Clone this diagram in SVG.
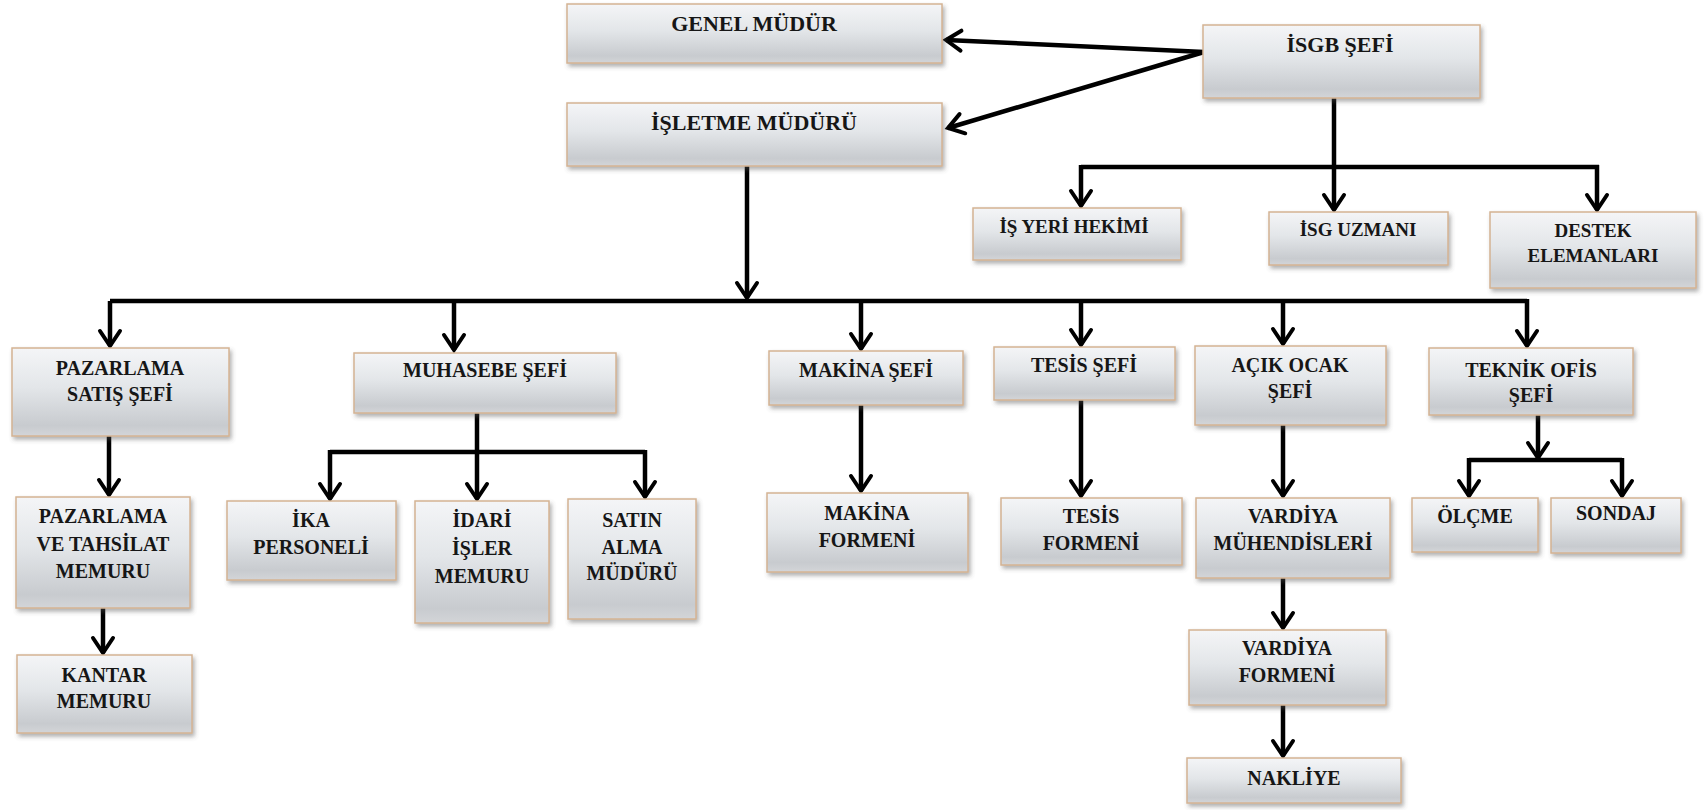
<svg xmlns="http://www.w3.org/2000/svg" width="1707" height="810" viewBox="0 0 1707 810">
  <defs>
    <linearGradient id="boxFill" x1="0" y1="0" x2="0" y2="1">
      <stop offset="0" stop-color="#f4f5f7"/>
      <stop offset="0.45" stop-color="#e3e6e9"/>
      <stop offset="0.88" stop-color="#c8cbcf"/>
      <stop offset="1" stop-color="#d3d5d8"/>
    </linearGradient>
    <filter id="shadow" x="-10%" y="-20%" width="120%" height="150%">
      <feDropShadow dx="2" dy="3" stdDeviation="2" flood-color="#555" flood-opacity="0.45"/>
    </filter>
    <marker id="arrow" markerUnits="userSpaceOnUse" viewBox="-18 -13 22 26" refX="0" refY="0" markerWidth="22" markerHeight="26" orient="auto" overflow="visible">
      <path d="M-15,-10 L0,0 L-15,10" fill="none" stroke="#000" stroke-width="4" stroke-linejoin="miter" stroke-linecap="round"/>
    </marker>
  </defs>
  <style>
    .box { fill: url(#boxFill); stroke: #d4b393; stroke-width: 1.5; filter: url(#shadow); }
    .lbl { font-family: "Liberation Serif", "Times New Roman", serif; font-weight: bold; font-size: 20px; fill: #161616; text-anchor: middle; }
    .big { font-size: 22px; }
    .mid { font-size: 19px; }
    .wire { fill: none; stroke: #000; stroke-width: 4.5; stroke-linejoin: miter; }
    .arr { marker-end: url(#arrow); }
  </style>
  <rect width="1707" height="810" fill="#fff"/>

  <!-- connectors -->
  <g id="connectors">
    <path class="wire arr" d="M1204,52 L946,40"/>
    <path class="wire arr" d="M1204,52 L948,128"/>
    <path class="wire arr" d="M747,166 L747,298"/>
    <path class="wire" d="M110,301 L1527,301"/>
    <path class="wire arr" d="M110,301 L110,346"/>
    <path class="wire arr" d="M454,301 L454,350"/>
    <path class="wire arr" d="M861,301 L861,349"/>
    <path class="wire arr" d="M1081,301 L1081,345"/>
    <path class="wire arr" d="M1283,301 L1283,344"/>
    <path class="wire arr" d="M1527,299 L1527,346"/>

    <path class="wire" d="M1334,98 L1334,167"/>
    <path class="wire" d="M1081,167 L1599,167"/>
    <path class="wire arr" d="M1081,165 L1081,206"/>
    <path class="wire arr" d="M1334,167 L1334,210"/>
    <path class="wire arr" d="M1597,165 L1597,210"/>

    <path class="wire arr" d="M109,436 L109,495"/>
    <path class="wire arr" d="M103,608 L103,653"/>

    <path class="wire" d="M477,413 L477,452"/>
    <path class="wire" d="M330,452 L645,452"/>
    <path class="wire arr" d="M330,450 L330,499"/>
    <path class="wire arr" d="M477,452 L477,499"/>
    <path class="wire arr" d="M645,450 L645,497"/>

    <path class="wire arr" d="M861,405 L861,491"/>
    <path class="wire arr" d="M1081,400 L1081,496"/>
    <path class="wire arr" d="M1283,425 L1283,496"/>
    <path class="wire arr" d="M1283,578 L1283,628"/>
    <path class="wire arr" d="M1283,705 L1283,756"/>

    <path class="wire arr" d="M1538,415 L1538,458"/>
    <path class="wire" d="M1469,460 L1622,460"/>
    <path class="wire arr" d="M1469,458 L1469,496"/>
    <path class="wire arr" d="M1622,458 L1622,496"/>
  </g>

  <!-- management -->
  <g id="genel-mudur">
    <rect class="box" x="567" y="4" width="375" height="59"/>
    <text class="lbl big" x="754" y="31">GENEL MÜDÜR</text>
  </g>
  <g id="isletme-muduru">
    <rect class="box" x="567" y="103" width="375" height="63"/>
    <text class="lbl big" x="754" y="130">İŞLETME MÜDÜRÜ</text>
  </g>
  <g id="isgb-sefi">
    <rect class="box" x="1203" y="25" width="277" height="73"/>
    <text class="lbl big" x="1340" y="52">İSGB ŞEFİ</text>
  </g>

  <!-- occupational safety -->
  <g id="is-yeri-hekimi">
    <rect class="box" x="973" y="208" width="208" height="52"/>
    <text class="lbl mid" x="1074" y="233">İŞ YERİ HEKİMİ</text>
  </g>
  <g id="isg-uzmani">
    <rect class="box" x="1269" y="212" width="179" height="53"/>
    <text class="lbl mid" x="1358" y="236">İSG UZMANI</text>
  </g>
  <g id="destek-elemanlari">
    <rect class="box" x="1490" y="212" width="206" height="76"/>
    <text class="lbl mid" x="1593" y="237">DESTEK</text>
    <text class="lbl mid" x="1593" y="262">ELEMANLARI</text>
  </g>

  <!-- departments -->
  <g id="pazarlama-satis-sefi">
    <rect class="box" x="12" y="348" width="217" height="88"/>
    <text class="lbl" x="120" y="375">PAZARLAMA</text>
    <text class="lbl" x="120" y="401">SATIŞ ŞEFİ</text>
  </g>
  <g id="muhasebe-sefi">
    <rect class="box" x="354" y="353" width="262" height="60"/>
    <text class="lbl" x="485" y="377">MUHASEBE ŞEFİ</text>
  </g>
  <g id="makina-sefi">
    <rect class="box" x="769" y="351" width="194" height="54"/>
    <text class="lbl" x="866" y="377">MAKİNA ŞEFİ</text>
  </g>
  <g id="tesis-sefi">
    <rect class="box" x="994" y="347" width="181" height="53"/>
    <text class="lbl" x="1084" y="372">TESİS ŞEFİ</text>
  </g>
  <g id="acik-ocak-sefi">
    <rect class="box" x="1195" y="346" width="191" height="79"/>
    <text class="lbl" x="1290" y="372">AÇIK OCAK</text>
    <text class="lbl" x="1290" y="398">ŞEFİ</text>
  </g>
  <g id="teknik-ofis-sefi">
    <rect class="box" x="1429" y="348" width="204" height="67"/>
    <text class="lbl" x="1531" y="377">TEKNİK OFİS</text>
    <text class="lbl" x="1531" y="402">ŞEFİ</text>
  </g>

  <!-- staff -->
  <g id="pazarlama-tahsilat-memuru">
    <rect class="box" x="16" y="497" width="174" height="111"/>
    <text class="lbl" x="103" y="523">PAZARLAMA</text>
    <text class="lbl" x="103" y="551">VE TAHSİLAT</text>
    <text class="lbl" x="103" y="578">MEMURU</text>
  </g>
  <g id="kantar-memuru">
    <rect class="box" x="17" y="655" width="175" height="78"/>
    <text class="lbl" x="104" y="682">KANTAR</text>
    <text class="lbl" x="104" y="708">MEMURU</text>
  </g>
  <g id="ika-personeli">
    <rect class="box" x="227" y="501" width="169" height="79"/>
    <text class="lbl" x="311" y="527">İKA</text>
    <text class="lbl" x="311" y="554">PERSONELİ</text>
  </g>
  <g id="idari-isler-memuru">
    <rect class="box" x="415" y="501" width="134" height="122"/>
    <text class="lbl" x="482" y="527">İDARİ</text>
    <text class="lbl" x="482" y="555">İŞLER</text>
    <text class="lbl" x="482" y="583">MEMURU</text>
  </g>
  <g id="satin-alma-muduru">
    <rect class="box" x="568" y="499" width="128" height="120"/>
    <text class="lbl" x="632" y="527">SATIN</text>
    <text class="lbl" x="632" y="554">ALMA</text>
    <text class="lbl" x="632" y="580">MÜDÜRÜ</text>
  </g>
  <g id="makina-formeni">
    <rect class="box" x="767" y="493" width="201" height="79"/>
    <text class="lbl" x="867" y="520">MAKİNA</text>
    <text class="lbl" x="867" y="547">FORMENİ</text>
  </g>
  <g id="tesis-formeni">
    <rect class="box" x="1001" y="498" width="181" height="67"/>
    <text class="lbl" x="1091" y="523">TESİS</text>
    <text class="lbl" x="1091" y="550">FORMENİ</text>
  </g>
  <g id="vardiya-muhendisleri">
    <rect class="box" x="1196" y="498" width="194" height="80"/>
    <text class="lbl" x="1293" y="523">VARDİYA</text>
    <text class="lbl" x="1293" y="550">MÜHENDİSLERİ</text>
  </g>
  <g id="vardiya-formeni">
    <rect class="box" x="1189" y="630" width="197" height="75"/>
    <text class="lbl" x="1287" y="655">VARDİYA</text>
    <text class="lbl" x="1287" y="682">FORMENİ</text>
  </g>
  <g id="nakliye">
    <rect class="box" x="1187" y="758" width="214" height="45"/>
    <text class="lbl" x="1294" y="785">NAKLİYE</text>
  </g>
  <g id="olcme">
    <rect class="box" x="1412" y="498" width="126" height="54"/>
    <text class="lbl" x="1475" y="523">ÖLÇME</text>
  </g>
  <g id="sondaj">
    <rect class="box" x="1551" y="498" width="130" height="55"/>
    <text class="lbl" x="1616" y="520">SONDAJ</text>
  </g>
</svg>
